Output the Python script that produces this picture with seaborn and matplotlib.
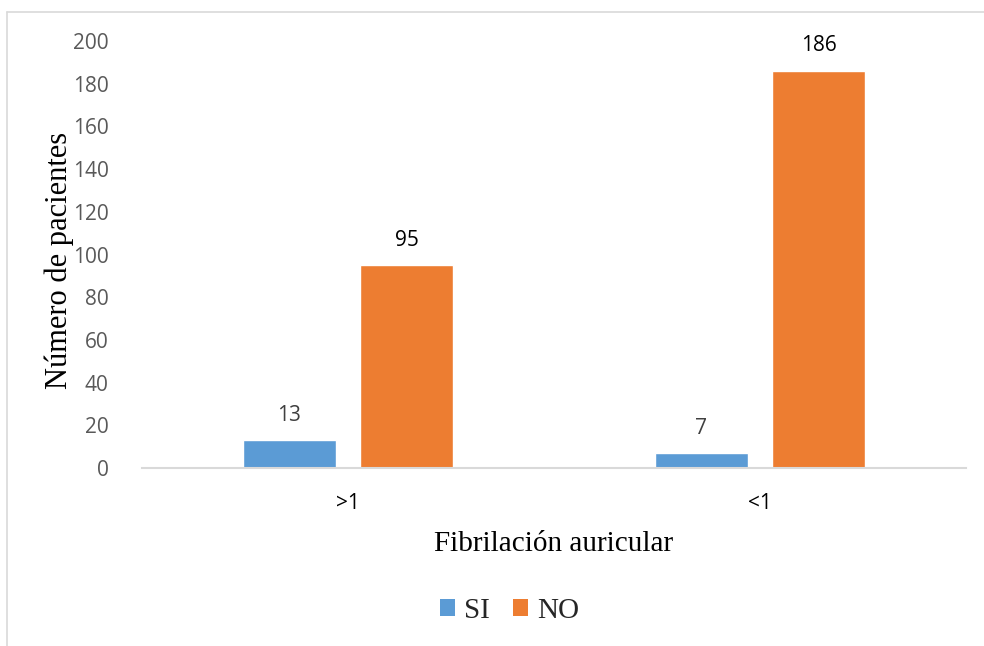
import matplotlib
matplotlib.use("Agg")
import matplotlib.pyplot as plt
from matplotlib.lines import Line2D
from matplotlib.patches import Patch
import seaborn as sns
import pandas as pd

categories = [">1", "<1"]
series_names = ["SI", "NO"]
si_values = [13, 7]
no_values = [95, 186]
y_ticks = [0, 20, 40, 60, 80, 100, 120, 140, 160, 180, 200]

colors = {"SI": "#5B9BD5", "NO": "#ED7D31"}
label_colors = {"SI": "#404040", "NO": "#000000"}

df = pd.DataFrame({
    "grupo": categories * 2,
    "serie": ["SI"] * len(categories) + ["NO"] * len(categories),
    "valor": si_values + no_values,
})

sns.set_theme(style="white")
plt.rcParams["font.family"] = ["Open Sans", "DejaVu Sans"]

fig = plt.figure(figsize=(9.84, 6.46), dpi=100)
ax = fig.add_axes([0.1443, 0.2755, 0.8374, 0.661])

sns.barplot(data=df, x="grupo", y="valor", hue="serie", order=categories,
            hue_order=series_names, palette=colors, width=0.57, gap=0.21,
            saturation=1, legend=False, ax=ax)

ax.set_ylim(0, 200)
ax.set_xlim(-0.5, 1.5)
ax.set_yticks(y_ticks)
ax.set_yticklabels([str(t) for t in y_ticks], color="#595959", fontsize=15)
ax.set_xticks(range(len(categories)))
ax.set_xticklabels(categories, color="#000000", fontsize=15)
ax.tick_params(axis="both", length=0)
ax.tick_params(axis="y", pad=24)
ax.tick_params(axis="x", pad=18)

for s in ["top", "right", "left"]:
    ax.spines[s].set_visible(False)
ax.spines["bottom"].set_color("#D9D9D9")
ax.spines["bottom"].set_linewidth(1.5)

serif = ["Liberation Serif", "DejaVu Serif"]
ax.set_xlabel("Fibrilación auricular", family=serif, fontsize=21, color="#000000", labelpad=12)
ax.set_ylabel("Número de pacientes", family=serif, fontsize=22, color="#000000", labelpad=-1)
ax.yaxis.label.set_y(0.485)

# value labels above each bar
for container, name in zip(ax.containers, series_names):
    vals = si_values if name == "SI" else no_values
    for bar, v in zip(container, vals):
        ax.annotate(str(v), (bar.get_x() + bar.get_width() / 2, v),
                    xytext=(0, 18), textcoords="offset points",
                    ha="center", va="center", fontsize=15,
                    color=label_colors[name])

handles = [Patch(facecolor=colors[n], edgecolor="none") for n in series_names]
fig.legend(handles, series_names, loc="center",
           bbox_to_anchor=(0.518, 1 - 611 / 646),
           ncol=2, frameon=False, prop={"family": serif, "size": 21},
           handlelength=0.52, handleheight=0.52, handletextpad=0.3, columnspacing=0.8)

# outer chart frame (top and left edges)
frame_color = "#D9D9D9"
fig.add_artist(Line2D([7 / 984, 1], [1 - 12 / 646, 1 - 12 / 646],
                      transform=fig.transFigure, color=frame_color, lw=1.2))
fig.add_artist(Line2D([7 / 984, 7 / 984], [0, 1 - 12 / 646],
                      transform=fig.transFigure, color=frame_color, lw=1.2))

fig.savefig("out.png", dpi=100, facecolor="white")
